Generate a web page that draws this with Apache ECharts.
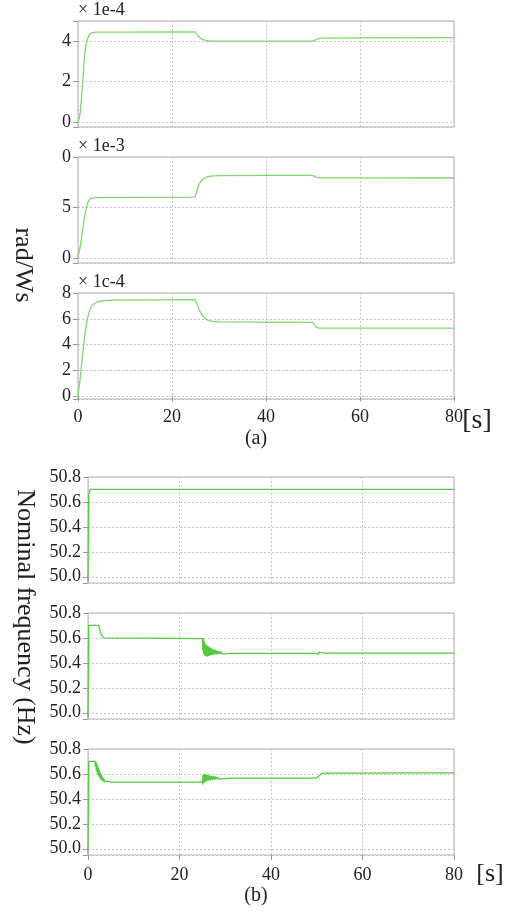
<!DOCTYPE html>
<html><head><meta charset="utf-8">
<script src="https://cdn.jsdelivr.net/npm/echarts@6/dist/echarts.min.js"></script>
<style>html,body{margin:0;padding:0;background:#fff}#c{width:512px;height:913px}</style>
</head><body><div id="c"></div>
<script>
// ---------- data ----------
const xTicks = [0, 20, 40, 60, 80];

// (a) panel 1, x 1e-4
const yTicksA1 = [0, 2, 4];
const yTextA1 = ['0', '2', '4'];
const dataA1 = [[0,0],[0.25,0.15],[0.5,0.5],[0.75,1.2],[1.0,2.0],[1.25,2.8],[1.5,3.5],[1.75,3.85],[2.0,4.1],[2.5,4.35],[3.0,4.42],[4.0,4.45],[10,4.45],[24.9,4.46],[25.2,4.4],[25.5,4.28],[26.0,4.16],[26.5,4.09],[27.2,4.04],[28.0,4.01],[30,4.0],[40,4.0],[49.9,4.0],[50.2,3.98],[50.6,4.07],[51.2,4.13],[52,4.15],[60,4.16],[80,4.18]];

// (a) panel 2, x 1e-3
const yTicksA2 = [0, 5, 10];
const yTextA2 = ['0', '5', '0'];
const dataA2 = [[0,0],[0.5,1.2],[1.0,2.8],[1.5,4.4],[2.0,5.4],[2.5,5.8],[3.0,5.93],[4.0,5.98],[10,6.0],[24.9,6.02],[25.2,6.5],[25.6,7.1],[26.0,7.5],[26.6,7.82],[27.3,8.0],[28.2,8.1],[30,8.15],[40,8.17],[49.9,8.18],[50.3,8.1],[50.8,7.98],[51.5,7.94],[60,7.93],[80,7.92]];

// (a) panel 3, x 1e-4
const yTicksA3 = [0, 2, 4, 6, 8];
const yTextA3 = ['0', '2', '4', '6', '8'];
const dataA3 = [[0,0],[0.5,1.5],[1.0,3.3],[1.5,4.9],[2.0,6.0],[2.5,6.7],[3.0,7.05],[4.0,7.3],[5.0,7.4],[8,7.45],[24.9,7.48],[25.3,7.2],[25.7,6.8],[26.2,6.4],[26.8,6.1],[27.5,5.92],[28.5,5.8],[30,5.76],[40,5.74],[50.0,5.73],[50.4,5.5],[50.8,5.33],[51.5,5.28],[60,5.28],[80,5.28]];

// (b) frequency panels (Hz)
const yTicksB = [50.0, 50.2, 50.4, 50.6, 50.8];
const yTextB = ['50.0', '50.2', '50.4', '50.6', '50.8'];

const dataB1 = [[0,49.96],[0.15,50.66],[0.3,50.67],[0.5,50.7],[20,50.7],[80,50.7]];

const dataB2 = [[0,49.96],[0.15,50.7],[2.3,50.7],[2.5,50.68],[2.7,50.65],[2.9,50.625],[3.1,50.61],[3.4,50.6],[3.8,50.595],[25.0,50.595],
[25.1,50.50],[25.2,50.60],[25.3,50.47],[25.4,50.575],[25.5,50.46],[25.6,50.555],[25.7,50.455],[25.8,50.545],[25.9,50.45],[26.0,50.54],
[26.1,50.452],[26.2,50.535],[26.3,50.455],[26.4,50.53],[26.5,50.458],[26.6,50.525],[26.7,50.46],[26.8,50.52],[26.9,50.462],[27.0,50.515],
[27.2,50.465],[27.4,50.51],[27.6,50.467],[27.8,50.505],[28.0,50.468],[28.2,50.5],[28.4,50.469],[28.6,50.494],[28.8,50.47],[29.0,50.49],
[29.3,50.472],[29.6,50.485],[29.9,50.473],[30.2,50.48],[30.5,50.474],[31,50.477],[35,50.476],[49.9,50.476],
[50.0,50.466],[50.1,50.49],[50.2,50.465],[50.3,50.488],[50.4,50.467],[50.5,50.486],[50.6,50.47],[50.7,50.484],[50.8,50.472],[51.0,50.482],[51.2,50.474],[51.5,50.479],[52,50.478],[80,50.478]];

const dataB3 = [[0,49.96],[0.15,50.7],[1.5,50.7],
[1.6,50.66],[1.7,50.70],[1.8,50.63],[1.9,50.69],[2.0,50.61],[2.1,50.67],[2.2,50.59],[2.3,50.65],[2.4,50.58],[2.5,50.63],
[2.6,50.565],[2.7,50.61],[2.8,50.555],[2.9,50.595],[3.0,50.55],[3.1,50.58],[3.2,50.545],[3.3,50.568],[3.4,50.54],[3.5,50.56],
[3.6,50.538],[3.7,50.552],[3.8,50.536],[3.9,50.546],[4.0,50.535],[4.2,50.542],[4.4,50.535],[4.6,50.538],[5.0,50.535],[25.0,50.535],
[25.05,50.515],[25.1,50.59],[25.2,50.525],[25.3,50.6],[25.4,50.53],[25.5,50.6],[25.6,50.535],[25.7,50.598],[25.8,50.54],[25.9,50.595],
[26.0,50.543],[26.2,50.592],[26.4,50.546],[26.6,50.588],[26.8,50.549],[27.0,50.585],[27.2,50.552],[27.4,50.582],[27.6,50.555],[27.8,50.579],
[28.0,50.557],[28.3,50.576],[28.6,50.559],[28.9,50.573],[29.2,50.561],[29.5,50.571],[29.8,50.563],[30.2,50.569],[30.6,50.564],[31.0,50.567],
[32,50.566],[49.9,50.566],[50.2,50.57],[50.5,50.585],[50.8,50.598],[51.2,50.605],[52,50.607],[80,50.608]];

// ---------- chart ----------
const FONT = 'Liberation Serif';
const chart = echarts.init(document.getElementById('c'), null, {renderer: 'canvas'});

const panels = [
  {grid:{left:78, top:21, width:376, height:106}, min:-0.25, max:5,  split:3, ticks:yTicksA1, texts:yTextA1, data:dataA1, name:'× 1e-4', color:'#7fd76f', xlab:false},
  {grid:{left:78, top:157, width:376, height:106}, min:-0.5, max:10, split:2, ticks:yTicksA2, texts:yTextA2, data:dataA2, name:'× 1e-3', color:'#7fd76f', xlab:false},
  {grid:{left:78, top:293, width:376, height:106}, min:-0.2, max:8,  split:4, ticks:yTicksA3, texts:yTextA3, data:dataA3, name:'× 1c-4', color:'#7fd76f', xlab:true, xmargin:9},
  {grid:{left:88, top:477, width:366, height:106}, min:49.95, max:50.8, split:4, ticks:yTicksB, texts:yTextB, data:dataB1, name:'', color:'#55c942', xlab:false},
  {grid:{left:88, top:613, width:366, height:106}, min:49.95, max:50.8, split:4, ticks:yTicksB, texts:yTextB, data:dataB2, name:'', color:'#55c942', xlab:false},
  {grid:{left:88, top:749, width:366, height:106}, min:49.95, max:50.8, split:4, ticks:yTicksB, texts:yTextB, data:dataB3, name:'', color:'#55c942', xlab:true, xmargin:11}
];

function labelFor(ticks, texts) {
  return function (v) {
    for (let i = 0; i < ticks.length; i++) if (Math.abs(ticks[i] - v) < 1e-6) return texts[i];
    return '';
  };
}

const splitStyle = {color:'#c4c4c4', type:[2,2], width:1};

const option = {
  animation: false,
  backgroundColor: '#fff',
  grid: panels.map(p => Object.assign({show:true, borderColor:'#b0b0b0', borderWidth:1, backgroundColor:'transparent'}, p.grid)),
  xAxis: panels.map((p, i) => ({
    type:'value', gridIndex:i, min:0, max:80, interval:20,
    axisLine:{show:false},
    axisTick:{show:p.xlab, inside:false, length:5, lineStyle:{color:'#999'}},
    axisLabel:{show:p.xlab, margin:p.xmargin || 8, fontFamily:FONT, fontSize:18, color:'#222'},
    splitLine:{show:true, lineStyle:splitStyle}
  })),
  yAxis: panels.map((p, i) => ({
    type:'value', gridIndex:i, min:p.min, max:p.max, splitNumber:p.split,
    name:p.name, nameLocation:'end', nameGap:2,
    nameTextStyle:{fontFamily:FONT, fontSize:18, color:'#222', align:'left', verticalAlign:'bottom'},
    axisLine:{show:false},
    axisTick:{show:true, inside:false, length:5, lineStyle:{color:'#999'}},
    axisLabel:{margin:7, fontFamily:FONT, fontSize:18, color:'#222', formatter:labelFor(p.ticks, p.texts)},
    splitLine:{show:true, lineStyle:splitStyle}
  })),
  series: panels.map((p, i) => ({
    type:'line', xAxisIndex:i, yAxisIndex:i, data:p.data, showSymbol:false, symbol:'none',
    lineStyle:{color:p.color, width:1.3}, silent:true
  })),
  graphic: [
    {type:'text', x:23, y:265, rotation:-Math.PI/2, style:{text:'rad/Ws', font:'26px "Liberation Serif"', fill:'#222', align:'center', verticalAlign:'middle'}},
    {type:'text', x:25, y:617, rotation:-Math.PI/2, style:{text:'Nominal frequency (Hz)', font:'26px "Liberation Serif"', fill:'#222', align:'center', verticalAlign:'middle'}},
    {type:'text', x:477, y:421, style:{text:'[s]', font:'28px "Liberation Serif"', fill:'#222', align:'center', verticalAlign:'middle'}},
    {type:'text', x:490, y:874, style:{text:'[s]', font:'26px "Liberation Serif"', fill:'#222', align:'center', verticalAlign:'middle'}},
    {type:'text', x:256, y:439, style:{text:'(a)', font:'20px "Liberation Serif"', fill:'#222', align:'center', verticalAlign:'middle'}},
    {type:'text', x:256, y:896, style:{text:'(b)', font:'20px "Liberation Serif"', fill:'#222', align:'center', verticalAlign:'middle'}}
  ]
};
chart.setOption(option);
</script>
</body></html>
